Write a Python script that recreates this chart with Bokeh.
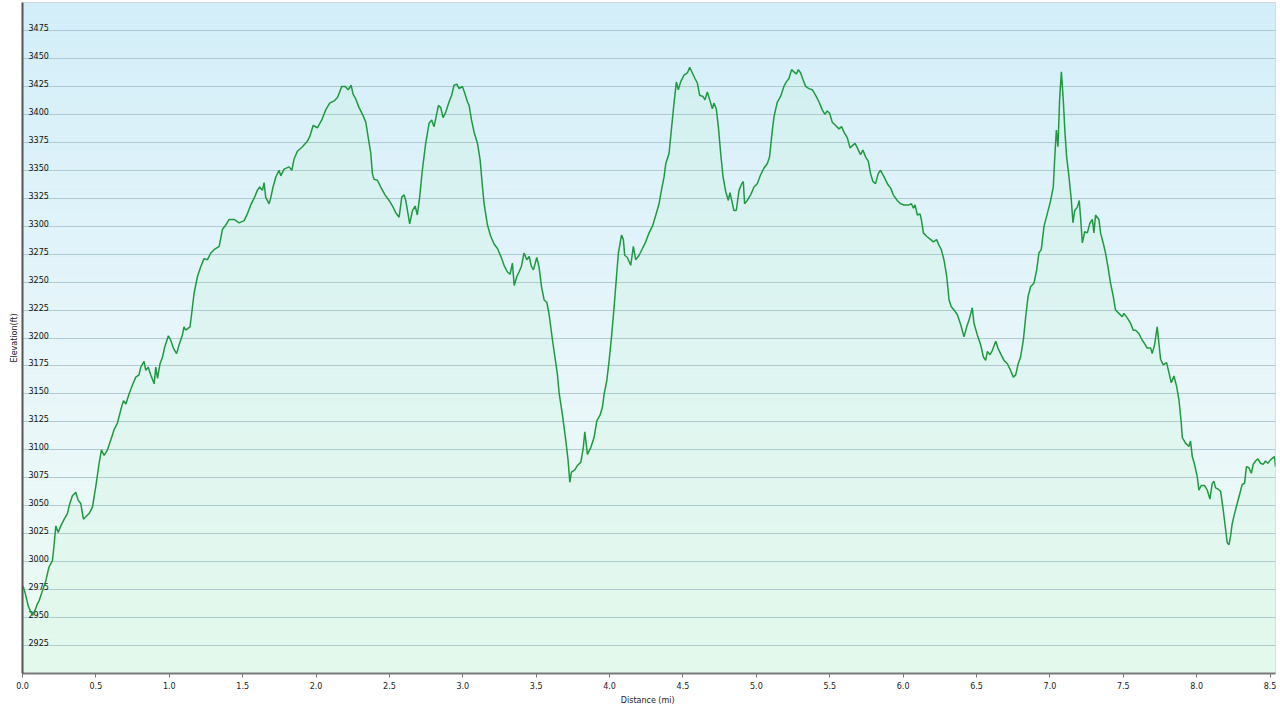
import numpy as np
from bokeh.plotting import figure
from bokeh.models import Range1d, FixedTicker, NumeralTickFormatter
from bokeh.core.properties import value
from bokeh.embed import file_html
from bokeh.resources import INLINE

# ---------------- data ----------------
dist = [
    0.0, 0.007, 0.02, 0.04, 0.057, 0.068, 0.09, 0.10, 0.113, 0.136,
    0.159, 0.18, 0.204, 0.216, 0.227, 0.243, 0.261, 0.284, 0.306, 0.318,
    0.34, 0.363, 0.379, 0.397, 0.415, 0.43, 0.454, 0.477, 0.499, 0.522,
    0.538, 0.556, 0.579, 0.602, 0.624, 0.647, 0.67, 0.688, 0.704, 0.726,
    0.749, 0.772, 0.794, 0.806, 0.828, 0.84, 0.856, 0.874, 0.897, 0.908,
    0.92, 0.937, 0.954, 0.969, 0.994, 1.01, 1.028, 1.05, 1.067, 1.09,
    1.1, 1.112, 1.141, 1.15, 1.169, 1.192, 1.215, 1.237, 1.26, 1.283,
    1.305, 1.34, 1.362, 1.385, 1.408, 1.442, 1.476,
    1.51, 1.532, 1.555, 1.578, 1.6, 1.616, 1.635, 1.646, 1.657, 1.68,
    1.691, 1.707, 1.726, 1.748, 1.76, 1.782, 1.816, 1.835, 1.85, 1.873,
    1.907, 1.941, 1.957, 1.98, 2.01, 2.039, 2.066, 2.084, 2.093, 2.123,
    2.146, 2.161, 2.175, 2.198, 2.22, 2.239, 2.252, 2.27, 2.293, 2.32,
    2.339, 2.357, 2.373, 2.384, 2.395, 2.418, 2.441, 2.47, 2.498, 2.525,
    2.543, 2.566, 2.584, 2.6, 2.611, 2.623, 2.638, 2.657, 2.675, 2.69,
    2.706, 2.724, 2.747, 2.77, 2.788, 2.804, 2.82, 2.834, 2.85, 2.865,
    2.884, 2.906, 2.924,
    2.94, 2.959, 2.975, 2.997, 3.013, 3.032, 3.043, 3.059, 3.077, 3.1,
    3.118, 3.134, 3.145, 3.168, 3.19, 3.213, 3.236, 3.259, 3.281, 3.304,
    3.322, 3.338, 3.35, 3.368, 3.383, 3.399, 3.417, 3.436, 3.452, 3.467,
    3.481, 3.504, 3.52, 3.536, 3.554, 3.572, 3.588, 3.611, 3.634, 3.645,
    3.656, 3.679, 3.701, 3.717, 3.729, 3.74, 3.763, 3.781, 3.804, 3.82,
    3.831, 3.849, 3.872, 3.894, 3.913, 3.935, 3.951, 3.963, 3.981, 3.997,
    4.013, 4.031, 4.047, 4.06, 4.081, 4.094, 4.103, 4.121, 4.144, 4.162,
    4.178, 4.201, 4.224, 4.246, 4.269, 4.292, 4.315, 4.337, 4.353, 4.371,
    4.383,
    4.405, 4.423, 4.439, 4.455, 4.468, 4.484, 4.507, 4.53, 4.546, 4.564,
    4.582, 4.598, 4.614, 4.636, 4.65, 4.666, 4.689, 4.7, 4.711, 4.727,
    4.741, 4.757, 4.773, 4.791, 4.809, 4.82, 4.832, 4.847, 4.863, 4.882,
    4.9, 4.911, 4.92, 4.938, 4.961, 4.984, 5.006, 5.029, 5.052, 5.075,
    5.09, 5.104, 5.12, 5.143, 5.165, 5.188, 5.204, 5.222, 5.24, 5.256,
    5.272, 5.286, 5.302, 5.318, 5.336, 5.358, 5.381, 5.404, 5.427, 5.449,
    5.467, 5.483, 5.499, 5.517, 5.54, 5.563, 5.581, 5.597, 5.62, 5.638,
    5.654, 5.672, 5.688, 5.71, 5.726, 5.744, 5.763, 5.778, 5.794, 5.812,
    5.83, 5.846,
    5.87, 5.897, 5.915, 5.933, 5.96, 5.983, 6.006, 6.04, 6.056, 6.07,
    6.081, 6.097, 6.115, 6.124, 6.138, 6.16, 6.188, 6.206, 6.228, 6.244,
    6.26, 6.278, 6.297, 6.313, 6.328, 6.347, 6.369, 6.392, 6.415, 6.433,
    6.449, 6.471, 6.483, 6.505, 6.528, 6.547, 6.562, 6.574, 6.592, 6.608,
    6.631, 6.646, 6.664, 6.687, 6.71, 6.732, 6.751, 6.767, 6.782, 6.8,
    6.819, 6.835, 6.851, 6.869, 6.891, 6.91, 6.925, 6.941, 6.96, 6.982,
    7.005, 7.023, 7.032, 7.044, 7.055, 7.066, 7.078, 7.091, 7.103, 7.114,
    7.13, 7.146, 7.157, 7.169, 7.187, 7.2, 7.21, 7.221, 7.237, 7.255,
    7.273, 7.289, 7.3, 7.311, 7.334,
    7.345, 7.363, 7.379, 7.395, 7.413, 7.432, 7.447, 7.47, 7.493, 7.504,
    7.527, 7.55, 7.568, 7.584, 7.606, 7.629, 7.645, 7.663, 7.686, 7.697,
    7.713, 7.731, 7.743, 7.754, 7.772, 7.795, 7.811, 7.827, 7.845, 7.863,
    7.879, 7.895, 7.902, 7.924, 7.947, 7.958, 7.97, 7.985, 8.004, 8.015,
    8.031, 8.054, 8.072, 8.09, 8.106, 8.117, 8.129, 8.145, 8.163, 8.181,
    8.197, 8.208, 8.22, 8.231, 8.242, 8.258, 8.276, 8.294, 8.31, 8.326,
    8.339, 8.356, 8.372, 8.385, 8.401, 8.417, 8.435, 8.453, 8.469, 8.485,
    8.503, 8.521, 8.53, 8.537,
]

elev = [
    2978, 2977, 2971, 2960, 2955, 2952, 2958, 2962, 2965, 2974,
    2983, 2995, 3001, 3016, 3032, 3026, 3032, 3038, 3043, 3050,
    3059, 3062, 3055, 3052, 3038, 3040, 3043, 3049, 3067, 3088,
    3100, 3095, 3100, 3109, 3118, 3124, 3136, 3144, 3141, 3150,
    3158, 3165, 3167, 3174, 3179, 3171, 3174, 3167, 3159, 3174,
    3164, 3177, 3183, 3192, 3202, 3198, 3191, 3186, 3194, 3203,
    3210, 3207, 3210, 3219, 3240, 3255, 3264, 3271, 3270, 3276,
    3279, 3282, 3297, 3301, 3306, 3306, 3303,
    3305, 3311, 3319, 3325, 3332, 3335, 3332, 3339, 3326, 3320,
    3325, 3335, 3344, 3350, 3345, 3351, 3353, 3350, 3360, 3367,
    3371, 3376, 3380, 3390, 3388, 3395, 3404, 3408, 3410, 3412,
    3415, 3420, 3425, 3425, 3422, 3426, 3418, 3414, 3406, 3399,
    3393, 3378, 3365, 3347, 3342, 3341, 3335, 3328, 3323, 3317,
    3312, 3308, 3326, 3328, 3323, 3314, 3302, 3314, 3318, 3310,
    3326, 3350, 3374, 3392, 3395, 3389, 3399, 3408, 3406, 3397,
    3402, 3411, 3417,
    3426, 3427, 3423, 3425, 3419, 3411, 3408, 3395, 3384, 3374,
    3359, 3335, 3320, 3301, 3291, 3284, 3280, 3273, 3265, 3259,
    3257, 3267, 3247, 3255, 3259, 3264, 3276, 3270, 3273, 3264,
    3261, 3272, 3263, 3246, 3234, 3232, 3221, 3198, 3177, 3167,
    3151, 3131, 3109, 3091, 3071, 3080, 3082, 3086, 3089, 3101,
    3116, 3096, 3102, 3111, 3126, 3131, 3138, 3150, 3162, 3180,
    3201, 3228, 3255, 3276, 3292, 3288, 3274, 3272, 3265, 3282,
    3270, 3274, 3280, 3286, 3294, 3300, 3310, 3320, 3332, 3344,
    3356,
    3365, 3389, 3410, 3429, 3422, 3429, 3435, 3437, 3442, 3437,
    3432, 3428, 3417, 3416, 3413, 3420, 3410, 3405, 3410, 3405,
    3389, 3365, 3344, 3331, 3323, 3330, 3323, 3314, 3314, 3332,
    3338, 3340, 3320, 3323, 3328, 3335, 3338, 3346, 3352, 3356,
    3362, 3380, 3398, 3411, 3416, 3425, 3429, 3432, 3440, 3438,
    3436, 3440, 3437, 3431, 3425, 3423, 3422, 3417, 3411, 3404,
    3400, 3403, 3401, 3393, 3390, 3387, 3389, 3384, 3379, 3370,
    3372, 3374, 3370, 3364, 3368, 3362, 3358, 3347, 3340, 3338,
    3347, 3350,
    3344, 3337, 3334, 3328, 3323, 3320, 3319, 3319, 3320, 3316,
    3319, 3310, 3311, 3306, 3294, 3291, 3288, 3286, 3288, 3283,
    3279, 3270, 3255, 3234, 3228, 3225, 3221, 3212, 3201, 3210,
    3216, 3227, 3213, 3203, 3194, 3183, 3180, 3188, 3185, 3189,
    3197, 3191, 3186, 3180, 3177, 3171, 3165, 3167, 3176, 3183,
    3198, 3219, 3237, 3246, 3249, 3261, 3276, 3279, 3300, 3311,
    3323, 3335, 3359, 3386, 3371, 3413, 3438, 3413, 3383, 3362,
    3344, 3323, 3303, 3314, 3317, 3323, 3306, 3285, 3295, 3294,
    3303, 3306, 3294, 3310, 3306,
    3294, 3285, 3276, 3264, 3249, 3237, 3225, 3222, 3219, 3222,
    3218, 3213, 3207, 3207, 3204, 3198, 3195, 3191, 3191, 3186,
    3194, 3210, 3195, 3181, 3176, 3178, 3169, 3160, 3166, 3157,
    3145, 3124, 3111, 3106, 3103, 3108, 3094, 3087, 3076, 3064,
    3068, 3068, 3064, 3056, 3070, 3072, 3066, 3065, 3063, 3046,
    3029, 3017, 3015, 3023, 3034, 3043, 3052, 3061, 3069, 3070,
    3085, 3084, 3079, 3087, 3090, 3092, 3088, 3087, 3090, 3088,
    3091, 3093, 3094, 3085,
]

y_ticks = [2925, 2950, 2975, 3000, 3025, 3050, 3075, 3100, 3125, 3150, 3175,
           3200, 3225, 3250, 3275, 3300, 3325, 3350, 3375, 3400, 3425, 3450, 3475]
y_tick_labels = [str(v) for v in y_ticks]
x_ticks = [0.0, 0.5, 1.0, 1.5, 2.0, 2.5, 3.0, 3.5, 4.0, 4.5, 5.0, 5.5, 6.0,
           6.5, 7.0, 7.5, 8.0, 8.5]

X_START, X_END = 0.0, 8.537
Y_START, Y_END = 2900, 3500

FONT = "DejaVu Sans"

p = figure(width=1278, height=707, output_backend="svg", toolbar_location=None,
           x_range=Range1d(X_START, X_END), y_range=Range1d(Y_START, Y_END),
           min_border_left=22, min_border_right=3, min_border_top=2,
           min_border_bottom=0)
p.background_fill_color = "white"
p.border_fill_color = "white"
p.outline_line_color = "#cccccc"
p.xgrid.visible = False
p.ygrid.visible = False

# ---- background vertical gradient (blue at top -> pale green at bottom) ----
n_bands = 90
edges = np.linspace(Y_START, Y_END, n_bands + 1)
stops_t = [0.0, 0.45, 1.0]
stops_c = [np.array([0xed, 0xfb, 0xf3]), np.array([0xe8, 0xf6, 0xfa]),
           np.array([0xd3, 0xee, 0xf9])]
band_colors = []
for i in range(n_bands):
    t = (i + 0.5) / n_bands
    if t <= stops_t[1]:
        f = t / stops_t[1]
        c = stops_c[0] * (1 - f) + stops_c[1] * f
    else:
        f = (t - stops_t[1]) / (1 - stops_t[1])
        c = stops_c[1] * (1 - f) + stops_c[2] * f
    band_colors.append("#%02x%02x%02x" % tuple(int(round(v)) for v in c))
p.quad(left=X_START, right=X_END, bottom=edges[:-1], top=edges[1:],
       fill_color=band_colors, line_color=band_colors, line_width=0.5)

# ---- area under the profile ----
p.varea(x=dist, y1=Y_START, y2=elev, fill_color="#c6f2d6", fill_alpha=0.24)

# ---- horizontal gridlines ----
p.hspan(y=y_ticks, line_color="#a6c2c8", line_width=1, line_alpha=0.85)

# ---- y tick labels drawn inside the plot, just above each gridline ----
p.text(x=X_START, y=y_ticks, text=y_tick_labels, x_offset=6, y_offset=-3,
       text_baseline="alphabetic", text_align="left",
       text_font=value(FONT), text_font_size="8px", text_color="#111111")

# ---- elevation line ----
p.line(dist, elev, line_color="#1f9a40", line_width=1.5)

# ---- axes ----
xa = p.xaxis[0]
xa.ticker = FixedTicker(ticks=x_ticks)
xa.formatter = NumeralTickFormatter(format="0.0")
xa.major_label_text_font = FONT
xa.major_label_text_font_size = "8px"
xa.major_label_text_color = "#222222"
xa.major_tick_out = 4
xa.major_tick_in = 0
xa.major_tick_line_color = "#777777"
xa.minor_tick_line_color = None
xa.axis_line_color = "#7a7a7a"
xa.axis_line_width = 2
xa.major_label_standoff = 4
xa.axis_label = "Distance  (mi)"
xa.axis_label_text_font = FONT
xa.axis_label_text_font_size = "8px"
xa.axis_label_text_font_style = "normal"
xa.axis_label_text_color = "#222222"
xa.axis_label_standoff = 4

ya = p.yaxis[0]
ya.ticker = FixedTicker(ticks=[])
ya.major_label_standoff = 0
ya.major_tick_out = 0
ya.major_tick_in = 0
ya.minor_tick_line_color = None
ya.major_tick_line_color = None
ya.axis_line_color = "#555555"
ya.axis_line_width = 2
ya.axis_label = "Elevation(ft)"
ya.axis_label_text_font = FONT
ya.axis_label_text_font_size = "8px"
ya.axis_label_text_font_style = "normal"
ya.axis_label_text_color = "#222222"
ya.axis_label_standoff = 4

open("out.html", "w").write(file_html(p, INLINE))
